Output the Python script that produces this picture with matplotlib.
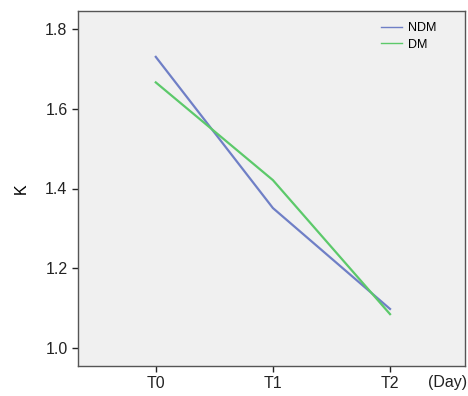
import matplotlib
matplotlib.use("Agg")
from matplotlib import pyplot as plt

plt.rcParams['font.family'] = ['Liberation Sans', 'DejaVu Sans']

days = ["T0", "T1", "T2"]
ndm = [1.730, 1.351, 1.098]
dm = [1.666, 1.421, 1.085]

fig = plt.figure(figsize=(4.68, 3.96), dpi=100)
ax = fig.add_axes([78 / 468, 1 - 366 / 396, (465 - 78) / 468, (366 - 11) / 396])
ax.set_facecolor("#f0f0f0")

x = list(range(len(days)))
ax.plot(x, ndm, color="#6f7fc6", lw=1.6, label="NDM")
ax.plot(x, dm, color="#5cc96a", lw=1.6, label="DM")

ax.set_xlim(-0.664, 2.64)
ax.set_ylim(0.955, 1.845)
ax.set_xticks(x)
ax.set_xticklabels(days)
ax.set_yticks([1.0, 1.2, 1.4, 1.6, 1.8])
ax.set_yticklabels(["1.0", "1.2", "1.4", "1.6", "1.8"])
ax.tick_params(labelsize=11.5, colors="#222222", length=4, width=1)
for s in ax.spines.values():
    s.set_color("#555555")
    s.set_linewidth(1.0)

ax.set_ylabel("K", fontsize=11.5, labelpad=12)
fig.text(428 / 468, 1 - 383 / 396, "(Day)", fontsize=11.5, color="#222222", va="center")

leg = ax.legend(loc="upper right", frameon=False, fontsize=9, handlelength=1.7,
                handletextpad=0.45, labelspacing=0.35, bbox_to_anchor=(0.955, 1.0))
for line in leg.get_lines():
    line.set_linewidth(1.0)

fig.savefig("out.png", dpi=100)
